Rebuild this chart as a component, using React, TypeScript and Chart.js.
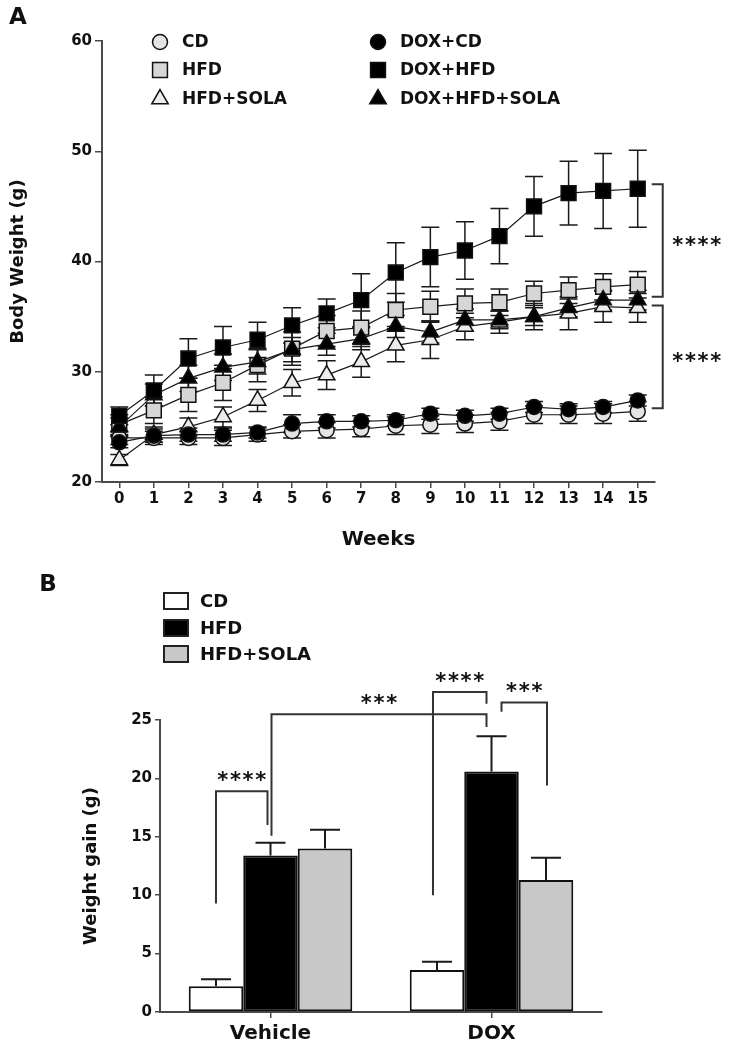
import React, { useEffect, useRef } from 'react';
import { Chart, registerables } from 'chart.js';

Chart.register(...registerables);

// ---------- DATA (panel A) ----------
const weeks = ['0', '1', '2', '3', '4', '5', '6', '7', '8', '9', '10', '11', '12', '13', '14', '15'];
const seriesNames = ['CD', 'HFD', 'HFD+SOLA', 'DOX+CD', 'DOX+HFD', 'DOX+HFD+SOLA'];

const cd = [24.0, 24.0, 24.0, 24.0, 24.3, 24.6, 24.7, 24.8, 25.1, 25.2, 25.3, 25.5, 26.1, 26.1, 26.2, 26.4];
const cdErr = [0.6, 0.6, 0.6, 0.7, 0.6, 0.6, 0.7, 0.7, 0.8, 0.8, 0.8, 0.8, 0.8, 0.8, 0.9, 0.9];
const hfd = [25.2, 26.5, 27.9, 29.0, 30.6, 32.1, 33.7, 34.0, 35.6, 35.9, 36.2, 36.3, 37.1, 37.4, 37.7, 37.9];
const hfdErr = [0.9, 1.2, 1.5, 1.6, 1.5, 1.5, 1.4, 1.5, 1.5, 1.4, 1.3, 1.2, 1.1, 1.2, 1.2, 1.2];
const hfdSola = [22.0, 24.3, 25.0, 25.9, 27.4, 29.0, 29.7, 30.9, 32.4, 32.9, 34.1, 34.5, 35.0, 35.3, 35.9, 35.8];
const hfdSolaErr = [0.5, 0.7, 0.8, 0.9, 1.0, 1.2, 1.3, 1.4, 1.5, 1.7, 1.2, 1.0, 1.2, 1.5, 1.4, 1.3];
const doxCd = [23.6, 24.2, 24.3, 24.3, 24.5, 25.3, 25.5, 25.5, 25.6, 26.2, 26.0, 26.2, 26.8, 26.6, 26.8, 27.4];
const doxCdErr = [0.5, 0.6, 0.6, 0.6, 0.5, 0.8, 0.6, 0.5, 0.5, 0.5, 0.5, 0.5, 0.5, 0.5, 0.5, 0.5];
const doxHfd = [26.0, 28.3, 31.2, 32.2, 32.9, 34.2, 35.3, 36.5, 39.0, 40.4, 41.0, 42.3, 45.0, 46.2, 46.4, 46.6];
const doxHfdErr = [0.8, 1.4, 1.8, 1.9, 1.6, 1.6, 1.3, 2.4, 2.7, 2.7, 2.6, 2.5, 2.7, 2.9, 3.4, 3.5];
const doxHfdSola = [25.0, 27.9, 29.4, 30.4, 30.9, 32.0, 32.5, 33.0, 34.1, 33.6, 34.7, 34.7, 35.0, 35.8, 36.5, 36.5];
const doxHfdSolaErr = [0.8, 1.0, 1.2, 1.2, 1.1, 1.1, 1.0, 1.0, 1.0, 1.0, 1.0, 0.8, 0.8, 0.8, 0.9, 0.9];

const weightTicks = [20, 30, 40, 50, 60];
// significance brackets at week 15: [upper value, lower value]
const weekBrackets = [
  { top: 47.0, bottom: 36.8, label: '****' },
  { top: 36.0, bottom: 26.7, label: '****' },
];

// ---------- DATA (panel B) ----------
const groups = ['Vehicle', 'DOX'];
const barNames = ['CD', 'HFD', 'HFD+SOLA'];
const cdGain = [2.2, 3.6];
const cdGainErr = [0.6, 0.7];
const hfdGain = [13.4, 20.6];
const hfdGainErr = [1.1, 3.0];
const solaGain = [14.0, 11.3];
const solaGainErr = [1.6, 1.9];
const gainTicks = [0, 5, 10, 15, 20, 25];
// from/to = [dataset index, group index]; level and leg ends in grams
const gainBrackets = [
  { from: [0, 0], to: [1, 0], level: 18.9, fromEnd: 9.3, toEnd: 16.0, label: '****' },
  { from: [1, 0], to: [1, 1], level: 25.5, fromEnd: 15.1, toEnd: 24.4, label: '***' },
  { from: [0, 1], to: [1, 1], level: 27.4, fromEnd: 10.0, toEnd: 26.4, label: '****' },
  { from: [1, 1], to: [2, 1], level: 26.5, fromEnd: 25.7, toEnd: 19.4, label: '***' },
];

// ---------- STYLES ----------
const FONT = '"DejaVu Sans", "Liberation Sans", Arial, sans-serif';
const INK = '#111111';
const AXIS = '#4a4a4a';
const LINE_VALUES = [cd, hfd, hfdSola, doxCd, doxHfd, doxHfdSola];
const LINE_ERRORS = [cdErr, hfdErr, hfdSolaErr, doxCdErr, doxHfdErr, doxHfdSolaErr];
const MARKERS = ['circle', 'rect', 'triangle', 'circle', 'rect', 'triangle'];
const MARKER_R = [7.5, 10.5, 9.5, 7.5, 10.5, 9.5];
const MARKER_FILL = ['#e4e4e4', '#d6d6d6', '#ececec', '#000000', '#000000', '#000000'];
const DRAW_ORDER = [4, 3, 5, 2, 0, 1];
const BAR_FILL = ['#ffffff', '#000000', '#c8c8c8'];
const BAR_VALUES = [cdGain, hfdGain, solaGain];
const BAR_ERRORS = [cdGainErr, hfdGainErr, solaGainErr];
const BRACKET_NUDGE = [[0, -3], [1, -5], [-4, -5], [10, 1]];

function drawMarker(ctx: CanvasRenderingContext2D, style: string, x: number, y: number, r: number, fill: string) {
  ctx.beginPath();
  if (style === 'circle') {
    ctx.arc(x, y, r, 0, Math.PI * 2);
  } else if (style === 'rect') {
    const s = r * Math.SQRT1_2;
    ctx.rect(x - s, y - s, 2 * s, 2 * s);
  } else {
    let rad = 0;
    ctx.moveTo(x + Math.sin(rad) * r, y - Math.cos(rad) * r);
    rad += (2 * Math.PI) / 3;
    ctx.lineTo(x + Math.sin(rad) * r, y - Math.cos(rad) * r);
    rad += (2 * Math.PI) / 3;
    ctx.lineTo(x + Math.sin(rad) * r, y - Math.cos(rad) * r);
    ctx.closePath();
  }
  ctx.fillStyle = fill;
  ctx.fill();
  ctx.strokeStyle = INK;
  ctx.lineWidth = 1.5;
  ctx.stroke();
}

function drawStars(ctx: CanvasRenderingContext2D, text: string, cx: number, cy: number) {
  const step = 12.7;
  ctx.save();
  ctx.font = `bold 21px ${FONT}`;
  ctx.fillStyle = INK;
  ctx.textAlign = 'center';
  ctx.textBaseline = 'alphabetic';
  const x0 = cx - ((text.length - 1) * step) / 2;
  for (let i = 0; i < text.length; i++) ctx.fillText(text[i], x0 + i * step, cy + 11);
  ctx.restore();
}

const lineErrorBars = {
  id: 'lineErrorBars',
  beforeDatasetsDraw(chart: any) {
    const { ctx } = chart;
    const y = chart.scales.y;
    ctx.save();
    ctx.strokeStyle = '#1a1a1a';
    ctx.lineWidth = 1.5;
    chart.data.datasets.forEach((ds: any, i: number) => {
      const meta = chart.getDatasetMeta(i);
      meta.data.forEach((pt: any, j: number) => {
        const v = ds.data[j];
        const e = ds.errors[j];
        const yt = y.getPixelForValue(v + e);
        const yb = y.getPixelForValue(v - e);
        ctx.beginPath();
        ctx.moveTo(pt.x, yt);
        ctx.lineTo(pt.x, yb);
        ctx.moveTo(pt.x - 9, yt);
        ctx.lineTo(pt.x + 9, yt);
        ctx.moveTo(pt.x - 9, yb);
        ctx.lineTo(pt.x + 9, yb);
        ctx.stroke();
      });
    });
    ctx.restore();
  },
};

const topDecor = {
  id: 'topDecor',
  afterDraw(chart: any) {
    const { ctx } = chart;
    const x = chart.scales.x;
    const y = chart.scales.y;
    ctx.save();
    // panel letter
    ctx.font = `bold 23px ${FONT}`;
    ctx.fillStyle = INK;
    ctx.textAlign = 'center';
    ctx.textBaseline = 'middle';
    ctx.fillText('A', 18, 18);
    // legend
    const cols = [160, 378];
    const rows = [42, 70, 99];
    ctx.font = `bold 17px ${FONT}`;
    ctx.textAlign = 'left';
    seriesNames.forEach((name, i) => {
      const cx = cols[Math.floor(i / 3)];
      const cy = rows[i % 3];
      drawMarker(ctx, MARKERS[i], cx, cy, MARKER_R[i], MARKER_FILL[i]);
      ctx.fillStyle = INK;
      ctx.textBaseline = 'middle';
      ctx.fillText(name, cx + 22, cy + 1);
    });
    // brackets at last week
    const xe = x.getPixelForValue(weeks.length - 1);
    ctx.strokeStyle = '#333';
    ctx.lineWidth = 2;
    weekBrackets.forEach((b) => {
      const yt = y.getPixelForValue(b.top);
      const yb = y.getPixelForValue(b.bottom);
      ctx.beginPath();
      ctx.moveTo(xe + 14, yt);
      ctx.lineTo(xe + 25, yt);
      ctx.lineTo(xe + 25, yb);
      ctx.lineTo(xe + 14, yb);
      ctx.stroke();
      drawStars(ctx, b.label, xe + 59, (yt + yb) / 2);
    });
    ctx.restore();
  },
};

const barErrorBars = {
  id: 'barErrorBars',
  afterDatasetsDraw(chart: any) {
    const { ctx } = chart;
    const y = chart.scales.y;
    ctx.save();
    ctx.strokeStyle = '#1a1a1a';
    ctx.lineWidth = 2;
    chart.data.datasets.forEach((ds: any, i: number) => {
      chart.getDatasetMeta(i).data.forEach((bar: any, j: number) => {
        const top = y.getPixelForValue(ds.data[j] + ds.errors[j]);
        const base = y.getPixelForValue(ds.data[j]);
        ctx.beginPath();
        ctx.moveTo(bar.x, base);
        ctx.lineTo(bar.x, top);
        ctx.moveTo(bar.x - 15, top);
        ctx.lineTo(bar.x + 15, top);
        ctx.stroke();
      });
    });
    ctx.restore();
  },
};

const bottomDecor = {
  id: 'bottomDecor',
  afterDraw(chart: any) {
    const { ctx } = chart;
    const y = chart.scales.y;
    ctx.save();
    ctx.font = `bold 23px ${FONT}`;
    ctx.fillStyle = INK;
    ctx.textAlign = 'center';
    ctx.textBaseline = 'middle';
    ctx.fillText('B', 48, 25);
    // legend
    const rows = [41, 68, 94];
    barNames.forEach((name, i) => {
      ctx.fillStyle = BAR_FILL[i];
      ctx.fillRect(164, rows[i] - 8, 24, 16);
      ctx.strokeStyle = '#222';
      ctx.lineWidth = 2;
      ctx.strokeRect(164, rows[i] - 8, 24, 16);
      ctx.fillStyle = INK;
      ctx.font = `bold 18px ${FONT}`;
      ctx.textAlign = 'left';
      ctx.fillText(name, 200, rows[i] + 1);
    });
    // significance brackets
    ctx.strokeStyle = '#333';
    ctx.lineWidth = 2;
    gainBrackets.forEach((b, k) => {
      const x1 = chart.getDatasetMeta(b.from[0]).data[b.from[1]].x + BRACKET_NUDGE[k][0];
      const x2 = chart.getDatasetMeta(b.to[0]).data[b.to[1]].x + BRACKET_NUDGE[k][1];
      const yl = y.getPixelForValue(b.level);
      ctx.beginPath();
      ctx.moveTo(x1, y.getPixelForValue(b.fromEnd));
      ctx.lineTo(x1, yl);
      ctx.lineTo(x2, yl);
      ctx.lineTo(x2, y.getPixelForValue(b.toEnd));
      ctx.stroke();
      drawStars(ctx, b.label, (x1 + x2) / 2, yl - 15);
    });
    ctx.restore();
  },
};

function topConfig(): any {
  return {
    type: 'line',
    data: {
      labels: weeks,
      datasets: seriesNames.map((name, i) => ({
        label: name,
        data: LINE_VALUES[i],
        errors: LINE_ERRORS[i],
        borderColor: '#1a1a1a',
        borderWidth: 1.2,
        pointStyle: MARKERS[i],
        pointRadius: MARKER_R[i],
        pointBackgroundColor: MARKER_FILL[i],
        pointBorderColor: INK,
        pointBorderWidth: 1.5,
        order: DRAW_ORDER[i],
        tension: 0,
        fill: false,
        clip: false,
      })),
    },
    options: {
      animation: false,
      responsive: false,
      events: [],
      layout: { padding: { left: 0, right: 76, top: 41, bottom: 0 } },
      plugins: { legend: { display: false }, tooltip: { enabled: false } },
      scales: {
        x: {
          type: 'category',
          offset: true,
          grid: { display: true, drawOnChartArea: false, drawTicks: true, tickLength: 6, color: AXIS, lineWidth: 1.5, offset: false },
          border: { display: true, color: AXIS, width: 2 },
          ticks: { color: INK, font: { family: FONT, size: 15, weight: 'bold' }, padding: 2, maxRotation: 0, autoSkip: false },
          title: { display: true, text: 'Weeks', color: INK, font: { family: FONT, size: 20, weight: 'bold' }, padding: { top: 0, bottom: 8 } },
          afterFit: (s: any) => { s.height = 78; },
        },
        y: {
          min: 20,
          max: 60,
          afterBuildTicks: (s: any) => { s.ticks = weightTicks.map((v) => ({ value: v })); },
          grid: { display: true, drawOnChartArea: false, drawTicks: true, tickLength: 7, color: AXIS, lineWidth: 1.5 },
          border: { display: true, color: AXIS, width: 2 },
          ticks: { color: INK, font: { family: FONT, size: 15, weight: 'bold' }, padding: 3 },
          title: { display: true, text: 'Body Weight (g)', color: INK, font: { family: FONT, size: 18, weight: 'bold' }, padding: { top: 8, bottom: 0 } },
          afterFit: (s: any) => { s.width = 102; },
        },
      },
    },
    plugins: [lineErrorBars, topDecor],
  };
}

function bottomConfig(): any {
  return {
    type: 'bar',
    data: {
      labels: groups,
      datasets: barNames.map((name, i) => ({
        label: name,
        data: BAR_VALUES[i],
        errors: BAR_ERRORS[i],
        backgroundColor: BAR_FILL[i],
        borderColor: INK,
        borderWidth: 2,
        borderSkipped: false,
        categoryPercentage: 0.74,
        barPercentage: 1.0,
      })),
    },
    options: {
      animation: false,
      responsive: false,
      events: [],
      layout: { padding: { left: 0, right: 129, top: 160, bottom: 0 } },
      plugins: { legend: { display: false }, tooltip: { enabled: false } },
      scales: {
        x: {
          type: 'category',
          offset: true,
          grid: { display: true, drawOnChartArea: false, drawTicks: true, tickLength: 6, color: AXIS, lineWidth: 1.5, offset: false },
          border: { display: true, color: AXIS, width: 2 },
          ticks: { color: INK, font: { family: FONT, size: 20, weight: 'bold' }, padding: 4, maxRotation: 0 },
          afterFit: (s: any) => { s.height = 38; },
        },
        y: {
          min: 0,
          max: 25,
          afterBuildTicks: (s: any) => { s.ticks = gainTicks.map((v) => ({ value: v })); },
          grid: { display: true, drawOnChartArea: false, drawTicks: true, tickLength: 5, color: AXIS, lineWidth: 1.5 },
          border: { display: true, color: AXIS, width: 2 },
          ticks: { color: INK, font: { family: FONT, size: 15, weight: 'bold' }, padding: 3 },
          title: { display: true, text: 'Weight gain (g)', color: INK, font: { family: FONT, size: 18, weight: 'bold' }, padding: { top: 81, bottom: 0 } },
          afterFit: (s: any) => { s.width = 160; },
        },
      },
    },
    plugins: [barErrorBars, bottomDecor],
  };
}

export default function App() {
  const topRef = useRef<HTMLCanvasElement>(null);
  const botRef = useRef<HTMLCanvasElement>(null);
  useEffect(() => {
    const c1 = new Chart(topRef.current as HTMLCanvasElement, topConfig());
    const c2 = new Chart(botRef.current as HTMLCanvasElement, bottomConfig());
    return () => {
      c1.destroy();
      c2.destroy();
    };
  }, []);
  return (
    <div style={{ position: 'absolute', left: 0, top: 0, width: 731, height: 1050, background: '#ffffff' }}>
      <canvas ref={topRef} width={731} height={560} style={{ position: 'absolute', left: 0, top: 0, display: 'block' }} />
      <canvas ref={botRef} width={731} height={490} style={{ position: 'absolute', left: 0, top: 560, display: 'block' }} />
    </div>
  );
}
